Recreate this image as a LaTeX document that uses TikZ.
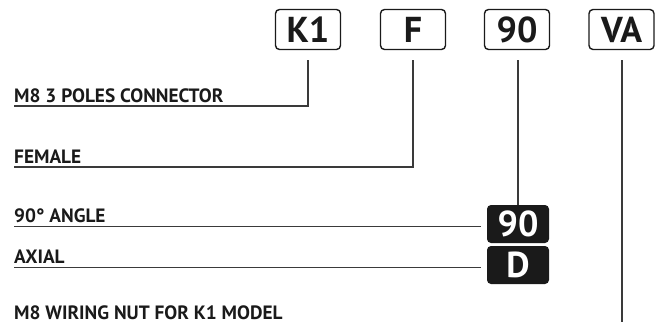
\documentclass[tikz,border=0pt]{standalone}
\usepackage{fontspec}
\setmainfont{PT Sans}
\definecolor{ink}{HTML}{1A1A1A}
\definecolor{wire}{HTML}{3A3A3A}
\begin{document}
\begin{tikzpicture}[x=1pt,y=-1pt,
  codebox/.style={draw=ink,line width=1.4pt,rounded corners=4pt,minimum width=65pt,minimum height=40pt,inner sep=0pt,text=ink,font=\fontsize{36}{36}\selectfont\bfseries},
  darkbox/.style={fill=ink,rounded corners=4pt,minimum width=62pt,minimum height=38pt,inner sep=0pt,text=white,font=\fontsize{36}{36}\selectfont\bfseries},
  lbl/.style={anchor=base west,inner sep=0pt,text=ink,font=\fontsize{19.3}{19.3}\selectfont\bfseries},
  wireline/.style={draw=wire,line width=1.3pt}]
\useasboundingbox (0,0) rectangle (658,325);
\node[codebox] (k1) at (308,29.5) {K1};
\node[codebox] (f) at (413,29.5) {F};
\node[codebox] (n90) at (517,29.5) {90};
\node[codebox] (va) at (621.5,29.5) {VA};
\node[darkbox] (d90) at (518,224) {90};
\node[darkbox] (dd) at (518,265) {D};
\node[lbl] (t1) at (14,102.5) {M8 3 POLES CONNECTOR};
\node[lbl] (t2) at (14,163.5) {FEMALE};
\node[lbl] (t3) at (14,222.5) {90° ANGLE};
\node[lbl] (t4) at (14,263.5) {AXIAL};
\node[lbl] (t5) at (14,319) {M8 WIRING NUT FOR K1 MODEL};
\coordinate (k1top) at (308,60);
\coordinate (k1l) at (14,106);
\coordinate (ftop) at (413,60);
\coordinate (fl) at (14,167);
\coordinate (ntop) at (518,60);
\coordinate (vtop) at (622,60);
\coordinate (vbot) at (622,322);
\coordinate (al) at (14,226.5);
\coordinate (xl) at (14,267.5);
\draw[wireline] (k1top) |- (k1l);
\draw[wireline] (ftop) |- (fl);
\draw[wireline] (ntop) -- (d90.north -| ntop);
\draw[wireline] (vtop) -- (vbot);
\draw[wireline] (al) -- ([xshift=-6pt]al -| d90.west);
\draw[wireline] (xl) -- ([xshift=-6pt]xl -| dd.west);
\end{tikzpicture}
\end{document}
